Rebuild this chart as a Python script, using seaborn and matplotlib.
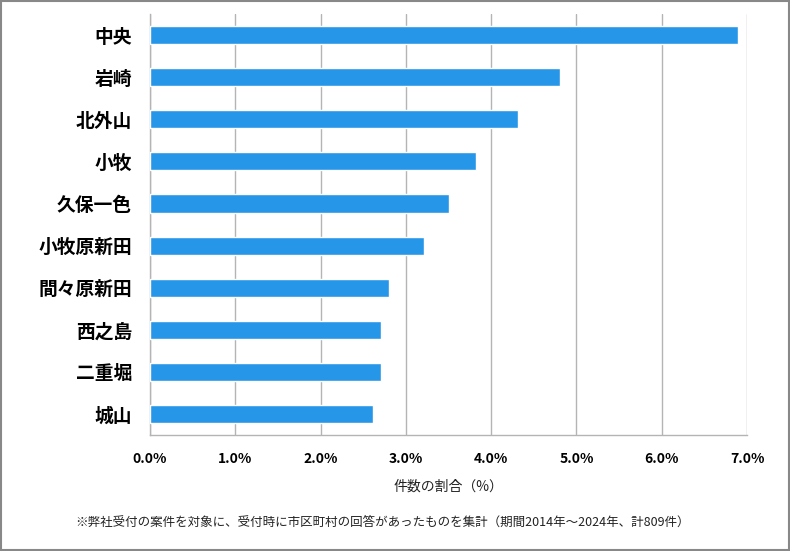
import matplotlib
matplotlib.use("Agg")
import matplotlib.pyplot as plt
import seaborn as sns
import pandas as pd
from matplotlib.ticker import FuncFormatter

# data
areas = ["中央", "岩崎", "北外山", "小牧", "久保一色", "小牧原新田", "間々原新田", "西之島", "二重堀", "城山"]
shares = [6.90, 4.81, 4.32, 3.82, 3.51, 3.21, 2.80, 2.71, 2.71, 2.61]
xticks = [0, 1, 2, 3, 4, 5, 6, 7]

df = pd.DataFrame({"area": areas, "share": shares})

sns.set_style("white")
plt.rcParams["font.family"] = ["Noto Sans CJK JP", "DejaVu Sans"]

fig = plt.figure(figsize=(7.9, 5.51), dpi=100)
ax = fig.add_axes([0.19, 0.2105, 0.7556, 0.764])

sns.barplot(data=df, x="share", y="area", color="#2696E8", width=0.43,
            saturation=1, ax=ax, zorder=3)

ax.set_xlim(0, 7)
ax.set_ylim(9.5, -0.5)
ax.set_xticks(xticks)
ax.xaxis.set_major_formatter(FuncFormatter(lambda v, p: f"{v:.1f}%"))
ax.grid(axis="x", color="#B4B4B4", linewidth=1, zorder=0)
ax.tick_params(axis="x", length=0, pad=12, labelsize=10)
ax.tick_params(axis="y", length=0, pad=13, labelsize=13.5)
for lab in ax.get_xticklabels() + ax.get_yticklabels():
    lab.set_fontweight("bold")
    lab.set_color("black")

for side in ["top", "right"]:
    ax.spines[side].set_visible(False)
for side in ["left", "bottom"]:
    ax.spines[side].set_color("#B4B4B4")
    ax.spines[side].set_linewidth(1)

ax.set_ylabel("")
ax.set_xlabel("件数の割合（%）", fontsize=10, labelpad=10, color="#222222")

fig.text(0.095, 0.052, "※弊社受付の案件を対象に、受付時に市区町村の回答があったものを集計（期間2014年～2024年、計809件）",
         fontsize=9, ha="left", va="center", color="#222222")

# gray frame around the whole picture
fig.patches.append(plt.Rectangle((0.001, 0.001), 0.998, 0.997, transform=fig.transFigure,
                                 fill=False, edgecolor="#888888", linewidth=1.5))

fig.savefig("out.png", dpi=100)
